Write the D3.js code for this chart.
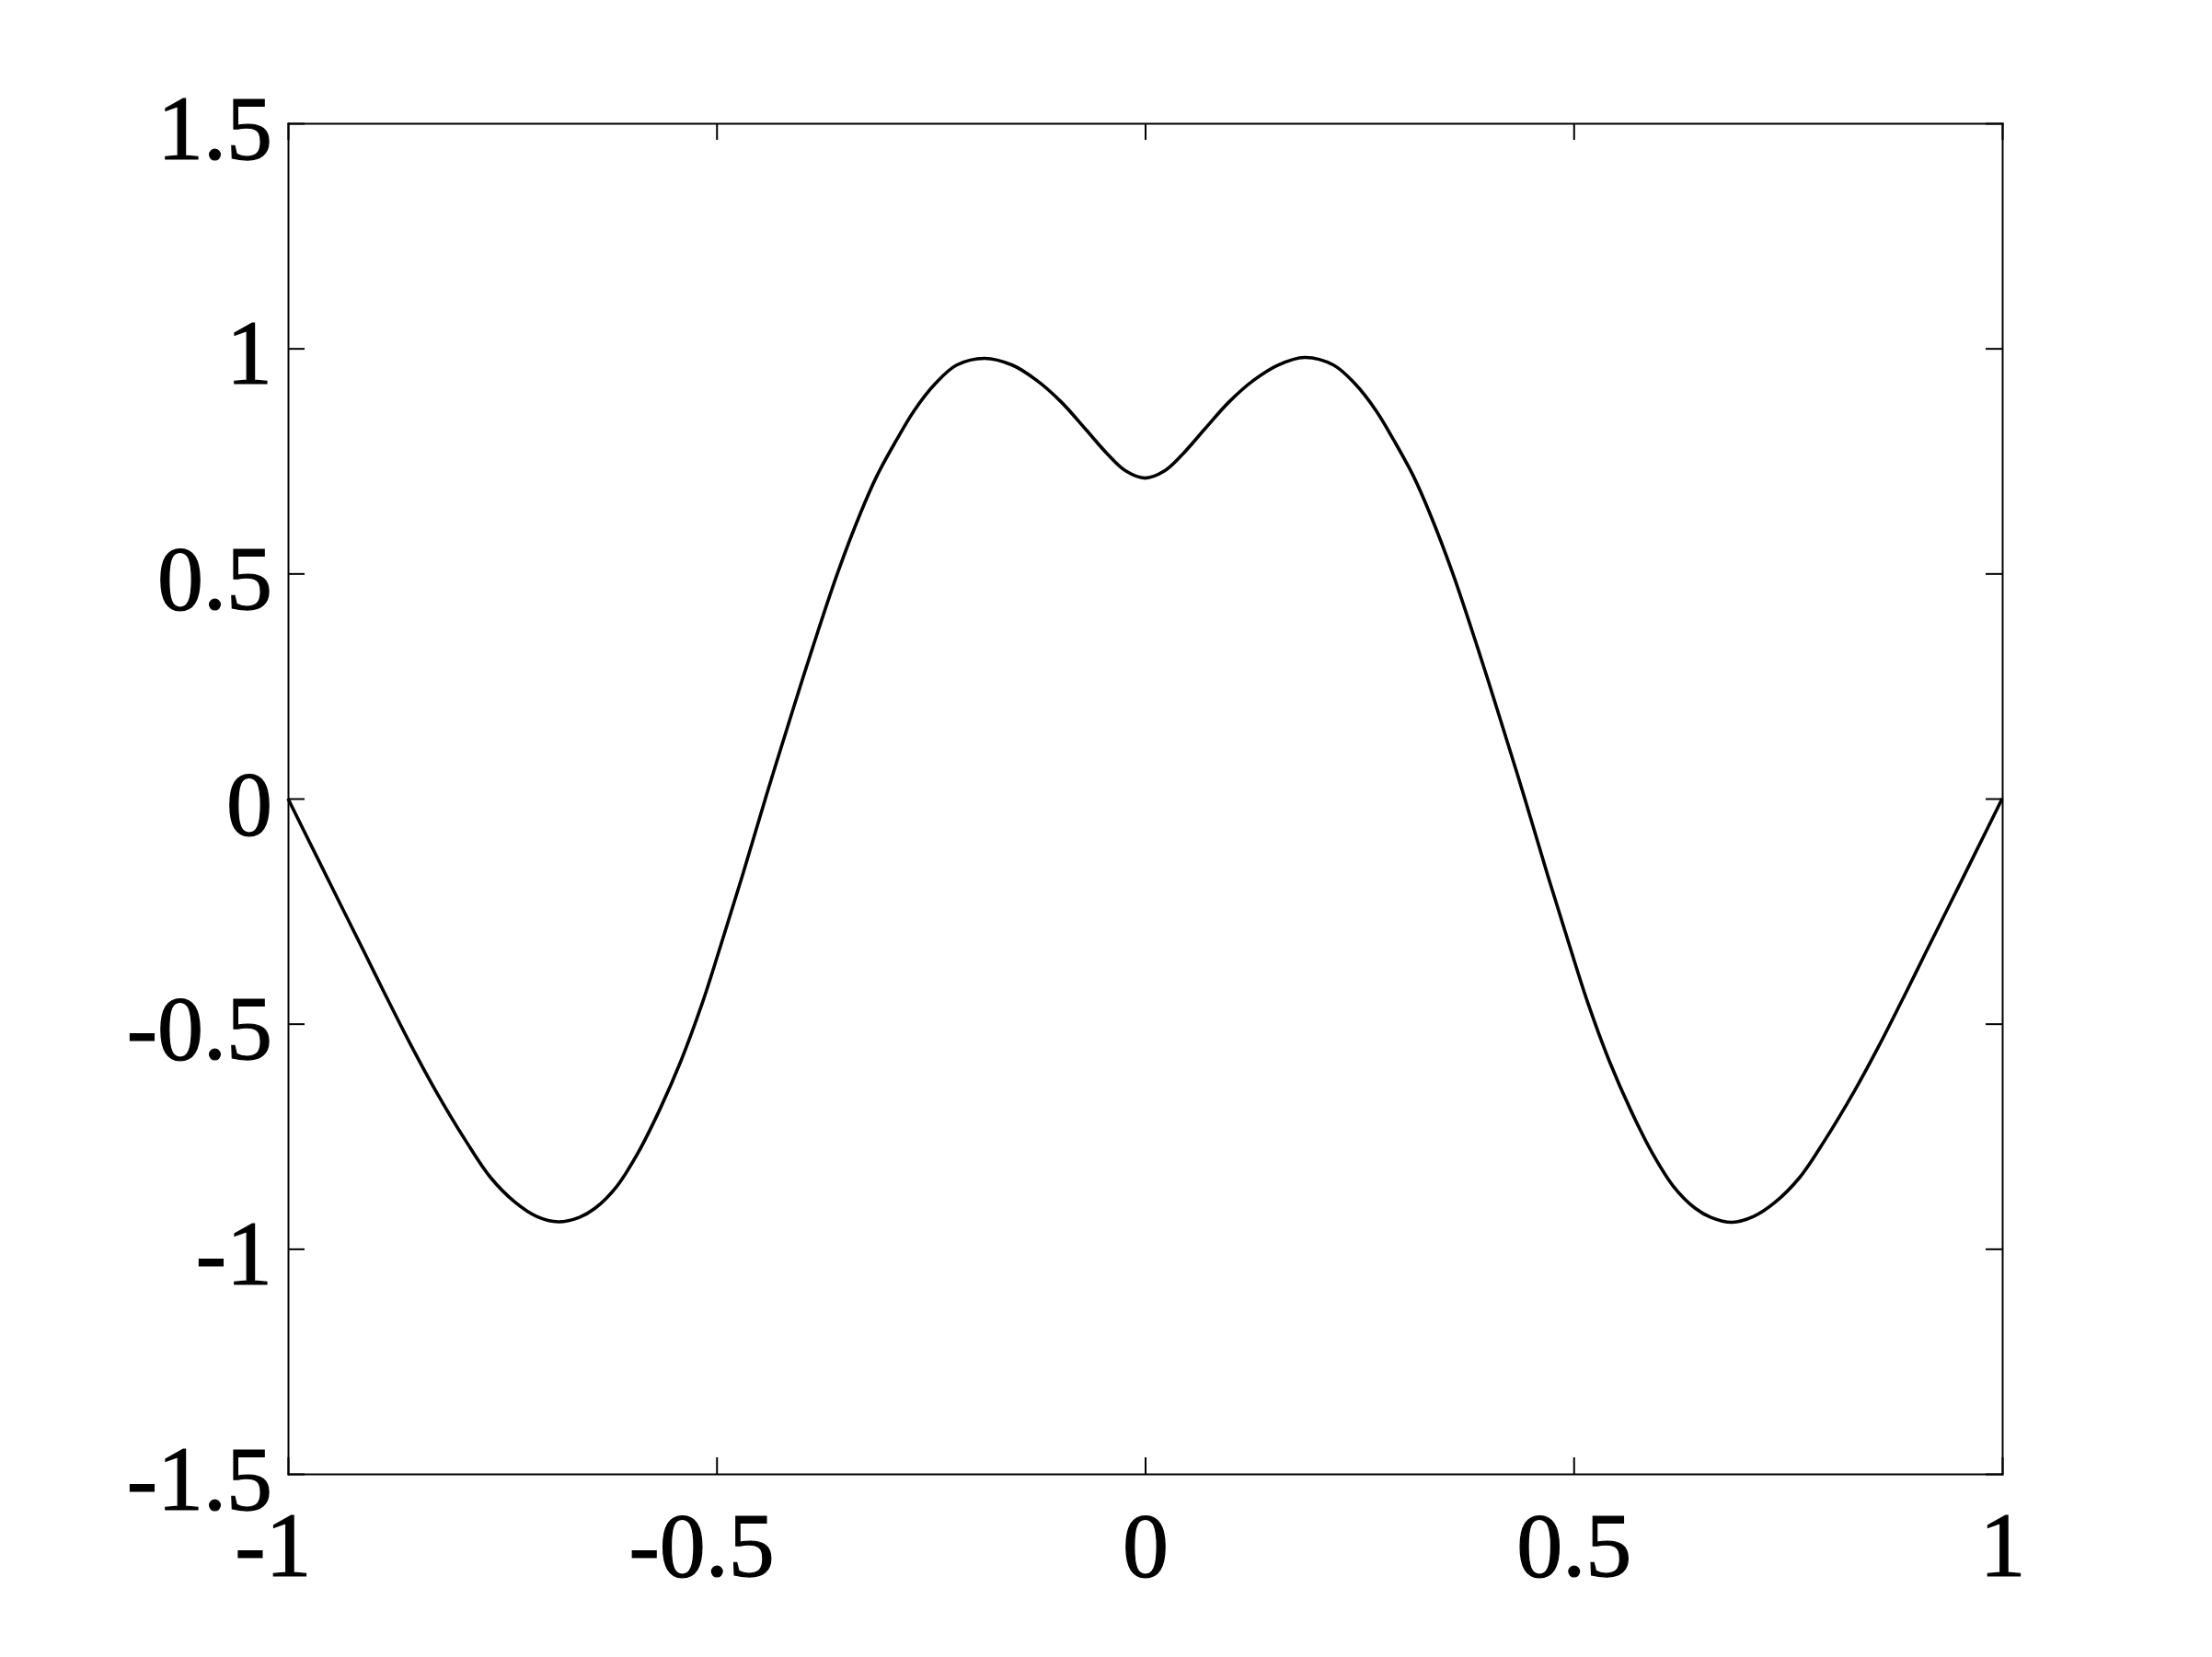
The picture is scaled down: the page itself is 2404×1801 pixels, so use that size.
<!DOCTYPE html>
<html lang="en">
<head>
  <meta charset="UTF-8"/>
  <title>Curve</title>
  <script src="https://d3js.org/d3.v7.min.js"></script>
  <style>
    body { margin: 0; background: #fff; }
    svg { display: block; }
    .axis path, .axis line { stroke: #000; stroke-width: 2px; }
    .axis text { font-family: "Liberation Serif", "Times New Roman", serif; font-size: 100px; fill: #000; stroke: #000; stroke-width: 1.2px; }
    .curve { fill: none; stroke: #000; stroke-width: 3.6px; stroke-linejoin: round; }
  </style>
</head>
<body>
<svg id="chart" width="2404" height="1801"></svg>
<script>
// values (x, y)
const xs = [-1, -0.9675, -0.9388, -0.910, -0.8887, -0.8565, -0.828, -0.792, -0.7635, -0.7348,
  -0.710, -0.6847, -0.660, -0.6418, -0.6167, -0.5917, -0.5666, -0.5416, -0.5166, -0.4951, -0.470, -0.4414,
  -0.4128, -0.3878, -0.359, -0.3323, -0.3126, -0.2911, -0.2697, -0.2446, -0.2198, -0.1873, -0.1551,
  -0.1265, -0.0979, -0.0692, -0.0442, -0.0227, 0,
  0.0227, 0.0442, 0.0692, 0.0979, 0.1265, 0.1551, 0.1862, 0.2198, 0.2446, 0.2697, 0.2911, 0.3126,
  0.3323, 0.359, 0.3878, 0.4128, 0.4414, 0.470, 0.4951, 0.5166, 0.5416, 0.5666, 0.5917, 0.6167,
  0.6418, 0.660, 0.6847, 0.710, 0.7348, 0.7635, 0.792, 0.828, 0.8565, 0.8887, 0.910, 0.9388,
  0.9675, 1];
const ys = [0, -0.125, -0.235, -0.345, -0.427, -0.548, -0.648, -0.762, -0.842, -0.897,
  -0.928, -0.940, -0.930, -0.910, -0.862, -0.787, -0.692, -0.583, -0.454, -0.326, -0.172, 0.010,
  0.186, 0.336, 0.500, 0.633, 0.718, 0.793, 0.861, 0.922, 0.963, 0.978, 0.963,
  0.929, 0.881, 0.820, 0.766, 0.728, 0.712,
  0.728, 0.766, 0.820, 0.881, 0.929, 0.963, 0.980, 0.963, 0.922, 0.861, 0.793, 0.718,
  0.633, 0.500, 0.336, 0.186, 0.010, -0.172, -0.326, -0.454, -0.583, -0.692, -0.787, -0.862,
  -0.910, -0.930, -0.941, -0.928, -0.897, -0.842, -0.762, -0.648, -0.548, -0.427, -0.345, -0.235,
  -0.125, 0];
const xTicks = [-1, -0.5, 0, 0.5, 1];
const yTicks = [-1.5, -1, -0.5, 0, 0.5, 1, 1.5];
const tickLabels = {"-1.5": "-1.5", "-1": "-1", "-0.5": "-0.5", "0": "0", "0.5": "0.5", "1": "1", "1.5": "1.5"};

const mLeft = 313, mRight = 2176, mTop = 134, mBottom = 1602;
const svg = d3.select('#chart');

const x = d3.scaleLinear().domain([-1, 1]).range([mLeft, mRight]);
const y = d3.scaleLinear().domain([-1.5, 1.5]).range([mBottom, mTop]);
const fmt = d => tickLabels[String(d)];

// bottom axis with labels
const gx = svg.append('g').attr('class', 'axis')
  .attr('transform', `translate(0,${mBottom})`)
  .call(d3.axisBottom(x).tickValues(xTicks).tickSizeInner(-18).tickSizeOuter(0).tickFormat(fmt));
gx.selectAll('text').attr('y', 111).attr('dy', 0)
  .attr('dx', d => d < 0 ? '-0.167em' : 0);

// left axis with labels
const gy = svg.append('g').attr('class', 'axis')
  .attr('transform', `translate(${mLeft},0)`)
  .call(d3.axisLeft(y).tickValues(yTicks).tickSizeInner(-18).tickSizeOuter(0).tickFormat(fmt));
gy.selectAll('text').attr('x', -17).attr('dy', 38);

// top and right, ticks only
svg.append('g').attr('class', 'axis')
  .attr('transform', `translate(0,${mTop})`)
  .call(d3.axisTop(x).tickValues(xTicks).tickSizeInner(-18).tickSizeOuter(0).tickFormat(''));
svg.append('g').attr('class', 'axis')
  .attr('transform', `translate(${mRight},0)`)
  .call(d3.axisRight(y).tickValues(yTicks).tickSizeInner(-18).tickSizeOuter(0).tickFormat(''));

svg.selectAll('.axis .domain').attr('stroke-linecap', 'square');

// the curve
const pts = xs.map((v, i) => [v, ys[i]]);
const line = d3.line().x(d => x(d[0])).y(d => y(d[1])).curve(d3.curveCatmullRom.alpha(0.5));
svg.append('path').attr('class', 'curve').attr('d', line(pts));
</script>
</body>
</html>
